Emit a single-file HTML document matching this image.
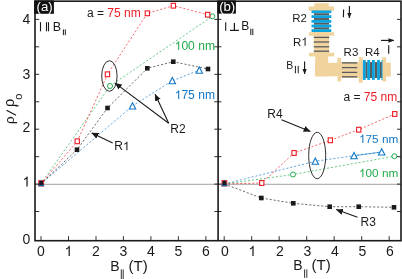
<!DOCTYPE html>
<html><head><meta charset="utf-8"><style>
html,body{margin:0;padding:0;background:#fff;}
svg{display:block;will-change:transform;font-family:"Liberation Sans",sans-serif;fill:#1a1a1a}
</style></head><body>
<svg width="402" height="279" viewBox="0 0 402 279">
<line x1="35" y1="184.3" x2="401" y2="184.3" stroke="#8a8a8a" stroke-width="0.8"/>
<polyline points="40.7,184 110,86 212.3,16.3" fill="none" stroke="#1faa4a" stroke-width="0.65" stroke-dasharray="2.1,1.9"/>
<polyline points="40.7,184 132.5,106 172.3,80.7 199.3,70.3" fill="none" stroke="#1177c8" stroke-width="0.65" stroke-dasharray="2.1,1.9"/>
<polyline points="40.7,184 77,149.7 107.5,108 147.3,68.3 173.3,61.7 208,69" fill="none" stroke="#1a1a1a" stroke-width="0.65" stroke-dasharray="2.1,1.9"/>
<polyline points="40.7,184 77.3,141.3 107.5,74.3 147.3,13.3 173.3,5.7 207.7,14.7" fill="none" stroke="#ed1c24" stroke-width="0.65" stroke-dasharray="2.1,1.9"/>
<polyline points="224.3,184 293,174.5 394.4,156.2" fill="none" stroke="#1faa4a" stroke-width="0.65" stroke-dasharray="2.1,1.9"/>
<polyline points="224.3,184 315.3,161.3 354,155.7 381.7,152" fill="none" stroke="#1177c8" stroke-width="0.65" stroke-dasharray="2.1,1.9"/>
<polyline points="224.3,184 261.3,198 293.3,203.3 329.7,206.7 358.7,206.7 394,207.3" fill="none" stroke="#1a1a1a" stroke-width="0.65" stroke-dasharray="2.1,1.9"/>
<polyline points="224.3,184 261.7,183 294,153 330.3,140.3 358.7,129.7 394.7,114" fill="none" stroke="#ed1c24" stroke-width="0.65" stroke-dasharray="2.1,1.9"/>
<circle cx="110" cy="86" r="2.5" fill="#fff" stroke="#1faa4a" stroke-width="1"/>
<circle cx="212.3" cy="16.3" r="2.5" fill="#fff" stroke="#1faa4a" stroke-width="1"/>
<polygon points="129.3,109.0 135.7,109.0 132.5,102.7" fill="#fff" stroke="#1177c8" stroke-width="1.1"/>
<polygon points="169.1,83.7 175.5,83.7 172.3,77.4" fill="#fff" stroke="#1177c8" stroke-width="1.1"/>
<polygon points="196.1,73.3 202.5,73.3 199.3,67.0" fill="#fff" stroke="#1177c8" stroke-width="1.1"/>
<rect x="74.7" y="147.4" width="4.6" height="4.6" fill="#1a1a1a"/>
<rect x="105.2" y="105.7" width="4.6" height="4.6" fill="#1a1a1a"/>
<rect x="145.0" y="66.0" width="4.6" height="4.6" fill="#1a1a1a"/>
<rect x="171.0" y="59.4" width="4.6" height="4.6" fill="#1a1a1a"/>
<rect x="205.7" y="66.7" width="4.6" height="4.6" fill="#1a1a1a"/>
<rect x="75.1" y="138.9" width="4.3" height="4.8" fill="#fff" stroke="#ed1c24" stroke-width="1.1"/>
<rect x="105.3" y="71.9" width="4.3" height="4.8" fill="#fff" stroke="#ed1c24" stroke-width="1.1"/>
<rect x="145.2" y="10.9" width="4.3" height="4.8" fill="#fff" stroke="#ed1c24" stroke-width="1.1"/>
<rect x="171.2" y="3.3" width="4.3" height="4.8" fill="#fff" stroke="#ed1c24" stroke-width="1.1"/>
<rect x="205.5" y="12.3" width="4.3" height="4.8" fill="#fff" stroke="#ed1c24" stroke-width="1.1"/>
<line x1="354" y1="155.7" x2="381.7" y2="152" stroke="#1177c8" stroke-width="0.6"/>
<circle cx="293" cy="174.5" r="2.5" fill="#fff" stroke="#1faa4a" stroke-width="1"/>
<circle cx="394.4" cy="156.2" r="2.5" fill="#fff" stroke="#1faa4a" stroke-width="1"/>
<polygon points="312.1,164.3 318.5,164.3 315.3,158.0" fill="#fff" stroke="#1177c8" stroke-width="1.1"/>
<polygon points="350.8,158.7 357.2,158.7 354.0,152.4" fill="#fff" stroke="#1177c8" stroke-width="1.1"/>
<polygon points="378.5,155.0 384.9,155.0 381.7,148.7" fill="#fff" stroke="#1177c8" stroke-width="1.1"/>
<rect x="259.0" y="195.7" width="4.6" height="4.6" fill="#1a1a1a"/>
<rect x="291.0" y="201.0" width="4.6" height="4.6" fill="#1a1a1a"/>
<rect x="327.4" y="204.4" width="4.6" height="4.6" fill="#1a1a1a"/>
<rect x="356.4" y="204.4" width="4.6" height="4.6" fill="#1a1a1a"/>
<rect x="391.7" y="205.0" width="4.6" height="4.6" fill="#1a1a1a"/>
<rect x="259.6" y="180.6" width="4.3" height="4.8" fill="#fff" stroke="#ed1c24" stroke-width="1.1"/>
<rect x="291.9" y="150.6" width="4.3" height="4.8" fill="#fff" stroke="#ed1c24" stroke-width="1.1"/>
<rect x="328.2" y="137.9" width="4.3" height="4.8" fill="#fff" stroke="#ed1c24" stroke-width="1.1"/>
<rect x="356.6" y="127.3" width="4.3" height="4.8" fill="#fff" stroke="#ed1c24" stroke-width="1.1"/>
<rect x="392.6" y="111.6" width="4.3" height="4.8" fill="#fff" stroke="#ed1c24" stroke-width="1.1"/>
<rect x="38.800000000000004" y="180.6" width="4.8" height="5.4" fill="#fff" stroke="#ed1c24" stroke-width="1"/>
<polygon points="38.0,186.2 44.400000000000006,186.2 41.2,179.6" fill="#1177c8"/>
<rect x="39.2" y="181" width="4" height="4.2" fill="#1a1a1a"/>
<rect x="222.0" y="180.6" width="4.8" height="5.4" fill="#fff" stroke="#ed1c24" stroke-width="1"/>
<polygon points="221.20000000000002,186.2 227.6,186.2 224.4,179.6" fill="#1177c8"/>
<rect x="222.4" y="181" width="4" height="4.2" fill="#1a1a1a"/>
<ellipse cx="109.4" cy="76" rx="7.7" ry="15.3" fill="none" stroke="#1a1a1a" stroke-width="0.9"/>
<ellipse cx="317.2" cy="155.5" rx="8.5" ry="23.2" fill="none" stroke="#1a1a1a" stroke-width="0.9"/>
<rect x="35" y="1.2" width="366" height="239.5" fill="none" stroke="#1a1a1a" stroke-width="1.6"/>
<line x1="218.1" y1="1.2" x2="218.1" y2="240.7" stroke="#1a1a1a" stroke-width="1.6"/>
<line x1="35" y1="211.5" x2="39.2" y2="211.5" stroke="#1a1a1a" stroke-width="0.9"/>
<line x1="214.3" y1="211.5" x2="221.4" y2="211.5" stroke="#1a1a1a" stroke-width="0.9"/>
<line x1="397" y1="211.5" x2="401" y2="211.5" stroke="#1a1a1a" stroke-width="0.9"/>
<line x1="35" y1="184.1" x2="39.2" y2="184.1" stroke="#1a1a1a" stroke-width="0.9"/>
<line x1="214.3" y1="184.1" x2="221.4" y2="184.1" stroke="#1a1a1a" stroke-width="0.9"/>
<line x1="397" y1="184.1" x2="401" y2="184.1" stroke="#1a1a1a" stroke-width="0.9"/>
<line x1="35" y1="156.7" x2="39.2" y2="156.7" stroke="#1a1a1a" stroke-width="0.9"/>
<line x1="214.3" y1="156.7" x2="221.4" y2="156.7" stroke="#1a1a1a" stroke-width="0.9"/>
<line x1="397" y1="156.7" x2="401" y2="156.7" stroke="#1a1a1a" stroke-width="0.9"/>
<line x1="35" y1="129.2" x2="39.2" y2="129.2" stroke="#1a1a1a" stroke-width="0.9"/>
<line x1="214.3" y1="129.2" x2="221.4" y2="129.2" stroke="#1a1a1a" stroke-width="0.9"/>
<line x1="397" y1="129.2" x2="401" y2="129.2" stroke="#1a1a1a" stroke-width="0.9"/>
<line x1="35" y1="101.8" x2="39.2" y2="101.8" stroke="#1a1a1a" stroke-width="0.9"/>
<line x1="214.3" y1="101.8" x2="221.4" y2="101.8" stroke="#1a1a1a" stroke-width="0.9"/>
<line x1="397" y1="101.8" x2="401" y2="101.8" stroke="#1a1a1a" stroke-width="0.9"/>
<line x1="35" y1="74.3" x2="39.2" y2="74.3" stroke="#1a1a1a" stroke-width="0.9"/>
<line x1="214.3" y1="74.3" x2="221.4" y2="74.3" stroke="#1a1a1a" stroke-width="0.9"/>
<line x1="397" y1="74.3" x2="401" y2="74.3" stroke="#1a1a1a" stroke-width="0.9"/>
<line x1="35" y1="46.8" x2="39.2" y2="46.8" stroke="#1a1a1a" stroke-width="0.9"/>
<line x1="214.3" y1="46.8" x2="221.4" y2="46.8" stroke="#1a1a1a" stroke-width="0.9"/>
<line x1="397" y1="46.8" x2="401" y2="46.8" stroke="#1a1a1a" stroke-width="0.9"/>
<line x1="35" y1="19.4" x2="39.2" y2="19.4" stroke="#1a1a1a" stroke-width="0.9"/>
<line x1="214.3" y1="19.4" x2="221.4" y2="19.4" stroke="#1a1a1a" stroke-width="0.9"/>
<line x1="397" y1="19.4" x2="401" y2="19.4" stroke="#1a1a1a" stroke-width="0.9"/>
<line x1="41.0" y1="236.2" x2="41.0" y2="240.5" stroke="#1a1a1a" stroke-width="0.9"/>
<text x="41.0" y="255.9" font-size="14" text-anchor="middle">0</text>
<line x1="224.2" y1="236.2" x2="224.2" y2="240.5" stroke="#1a1a1a" stroke-width="0.9"/>
<text x="224.8" y="255.9" font-size="14" text-anchor="middle">0</text>
<line x1="68.5" y1="236.2" x2="68.5" y2="240.5" stroke="#1a1a1a" stroke-width="0.9"/>
<path d="M763,0H583V1147Q518,1085 412,1023Q307,961 223,930V1104Q374,1175 487,1276Q600,1377 647,1472H763Z" transform="translate(64.58,255.90) scale(0.00684,-0.00684)" fill="#1a1a1a"/>
<line x1="251.7" y1="236.2" x2="251.7" y2="240.5" stroke="#1a1a1a" stroke-width="0.9"/>
<path d="M763,0H583V1147Q518,1085 412,1023Q307,961 223,930V1104Q374,1175 487,1276Q600,1377 647,1472H763Z" transform="translate(248.40,255.90) scale(0.00684,-0.00684)" fill="#1a1a1a"/>
<line x1="96.0" y1="236.2" x2="96.0" y2="240.5" stroke="#1a1a1a" stroke-width="0.9"/>
<text x="96.0" y="255.9" font-size="14" text-anchor="middle">2</text>
<line x1="279.2" y1="236.2" x2="279.2" y2="240.5" stroke="#1a1a1a" stroke-width="0.9"/>
<text x="279.8" y="255.9" font-size="14" text-anchor="middle">2</text>
<line x1="123.4" y1="236.2" x2="123.4" y2="240.5" stroke="#1a1a1a" stroke-width="0.9"/>
<text x="123.4" y="255.9" font-size="14" text-anchor="middle">3</text>
<line x1="306.7" y1="236.2" x2="306.7" y2="240.5" stroke="#1a1a1a" stroke-width="0.9"/>
<text x="307.3" y="255.9" font-size="14" text-anchor="middle">3</text>
<line x1="150.9" y1="236.2" x2="150.9" y2="240.5" stroke="#1a1a1a" stroke-width="0.9"/>
<text x="150.9" y="255.9" font-size="14" text-anchor="middle">4</text>
<line x1="334.2" y1="236.2" x2="334.2" y2="240.5" stroke="#1a1a1a" stroke-width="0.9"/>
<text x="334.8" y="255.9" font-size="14" text-anchor="middle">4</text>
<line x1="178.4" y1="236.2" x2="178.4" y2="240.5" stroke="#1a1a1a" stroke-width="0.9"/>
<text x="178.4" y="255.9" font-size="14" text-anchor="middle">5</text>
<line x1="361.7" y1="236.2" x2="361.7" y2="240.5" stroke="#1a1a1a" stroke-width="0.9"/>
<text x="362.3" y="255.9" font-size="14" text-anchor="middle">5</text>
<line x1="205.9" y1="236.2" x2="205.9" y2="240.5" stroke="#1a1a1a" stroke-width="0.9"/>
<text x="205.9" y="255.9" font-size="14" text-anchor="middle">6</text>
<line x1="389.2" y1="236.2" x2="389.2" y2="240.5" stroke="#1a1a1a" stroke-width="0.9"/>
<text x="389.8" y="255.9" font-size="14" text-anchor="middle">6</text>
<text x="30.2" y="244.4" font-size="14" text-anchor="end">0</text>
<path d="M763,0H583V1147Q518,1085 412,1023Q307,961 223,930V1104Q374,1175 487,1276Q600,1377 647,1472H763Z" transform="translate(22.42,186.50) scale(0.00684,-0.00684)" fill="#1a1a1a"/>
<text x="30.2" y="131.7" font-size="14" text-anchor="end">2</text>
<text x="30.2" y="78.6" font-size="14" text-anchor="end">3</text>
<text x="30.2" y="23.7" font-size="14" text-anchor="end">4</text>
<defs>
<marker id="ah" viewBox="0 0 10 10" refX="9.5" refY="5" markerWidth="7" markerHeight="7" markerUnits="userSpaceOnUse" orient="auto"><path d="M0,0.6 L10,5 L0,9.4 z" fill="#1a1a1a"/></marker>
<marker id="ahs" viewBox="0 0 10 10" refX="9.5" refY="5" markerWidth="5.6" markerHeight="5.6" markerUnits="userSpaceOnUse" orient="auto"><path d="M0,1 L10,5 L0,9 z" fill="#1a1a1a"/></marker>
</defs>
<!-- panel tags -->
<rect x="34.2" y="0.4" width="19.7" height="13.4" fill="#111"/>
<text x="44.6" y="11.4" font-size="13.2" text-anchor="middle" fill="#fff">(a)</text>
<rect x="217.3" y="0.4" width="18.6" height="13.2" fill="#111"/>
<text x="227.2" y="11.4" font-size="13.2" text-anchor="middle" fill="#fff">(b)</text>
<!-- I || B|| -->
<g stroke="#1a1a1a" stroke-width="1.1">
<line x1="40.5" y1="22.2" x2="40.5" y2="31.3"/>
<line x1="46.5" y1="22.2" x2="46.5" y2="31.3"/>
<line x1="48.5" y1="22.2" x2="48.5" y2="31.3"/>
<line x1="63.4" y1="29.4" x2="63.4" y2="35.1" stroke-width="1"/>
<line x1="65.3" y1="29.4" x2="65.3" y2="35.1" stroke-width="1"/>
<line x1="225.7" y1="22.2" x2="225.7" y2="30.8"/>
<line x1="234.4" y1="22.9" x2="234.4" y2="30.8" stroke-width="1.25"/>
<line x1="230" y1="30.4" x2="238.9" y2="30.4" stroke-width="1.25"/>
<line x1="250.8" y1="28.7" x2="250.8" y2="35.1" stroke-width="1"/>
<line x1="252.8" y1="28.7" x2="252.8" y2="35.1" stroke-width="1"/>
</g>
<text x="52.8" y="31.3" font-size="12.5">B</text>
<text x="241.2" y="30.4" font-size="12">B</text>
<!-- legends -->
<text x="87" y="17.2" font-size="12">a = <tspan fill="#ed1c24">75 nm</tspan></text>
<path d="M763,0H583V1147Q518,1085 412,1023Q307,961 223,930V1104Q374,1175 487,1276Q600,1377 647,1472H763Z" transform="translate(174.70,50.00) scale(0.00591,-0.00591)" fill="#1faa4a"/><text x="181.4" y="50" font-size="12.1" fill="#1faa4a">00 nm</text>
<path d="M763,0H583V1147Q518,1085 412,1023Q307,961 223,930V1104Q374,1175 487,1276Q600,1377 647,1472H763Z" transform="translate(174.70,99.00) scale(0.00591,-0.00591)" fill="#1177c8"/><text x="181.4" y="99" font-size="12.1" fill="#1177c8">75 nm</text>
<text x="170.3" y="132.6" font-size="12">R2</text>
<text x="114.3" y="150.3" font-size="12">R</text><path d="M763,0H583V1147Q518,1085 412,1023Q307,961 223,930V1104Q374,1175 487,1276Q600,1377 647,1472H763Z" transform="translate(122.96,150.30) scale(0.00586,-0.00586)" fill="#1a1a1a"/>
<text x="343.5" y="101.3" font-size="12">a = <tspan fill="#ed1c24">75 nm</tspan></text>
<path d="M763,0H583V1147Q518,1085 412,1023Q307,961 223,930V1104Q374,1175 487,1276Q600,1377 647,1472H763Z" transform="translate(359.00,143.00) scale(0.00576,-0.00576)" fill="#1177c8"/><text x="365.56" y="143" font-size="11.8" fill="#1177c8">75 nm</text>
<path d="M763,0H583V1147Q518,1085 412,1023Q307,961 223,930V1104Q374,1175 487,1276Q600,1377 647,1472H763Z" transform="translate(359.00,177.30) scale(0.00576,-0.00576)" fill="#1faa4a"/><text x="365.56" y="177.3" font-size="11.8" fill="#1faa4a">00 nm</text>
<text x="267.3" y="118" font-size="12">R4</text>
<text x="360.6" y="225.5" font-size="12">R3</text>
<!-- arrows -->
<g stroke="#1a1a1a" stroke-width="1.1" fill="none">
<line x1="168.7" y1="123.2" x2="115.1" y2="83.1" marker-end="url(#ah)"/>
<line x1="168.7" y1="123.2" x2="155.1" y2="94.2" marker-end="url(#ah)"/>
<line x1="112.7" y1="143" x2="91.7" y2="133" marker-end="url(#ah)"/>
<line x1="281.5" y1="119.8" x2="310.3" y2="131.4" marker-end="url(#ah)"/>
<line x1="357.5" y1="217.3" x2="336.3" y2="209.5" marker-end="url(#ah)"/>
</g>
<!-- x labels -->
<text x="110.3" y="270.6" font-size="14">B</text>
<text x="128.5" y="270.6" font-size="14" textLength="19.2" lengthAdjust="spacingAndGlyphs">(T)</text>
<text x="293.3" y="270.3" font-size="14">B</text>
<text x="311.6" y="270.3" font-size="14" textLength="19.2" lengthAdjust="spacingAndGlyphs">(T)</text>
<g stroke="#1a1a1a" stroke-width="0.9">
<line x1="121.3" y1="269.4" x2="121.3" y2="279"/><line x1="123.2" y1="269.4" x2="123.2" y2="279"/>
<line x1="304.6" y1="269.4" x2="304.6" y2="277.8"/><line x1="306.8" y1="269.4" x2="306.8" y2="277.8"/>
</g>
<!-- y label -->
<text transform="translate(13.6,123.9) rotate(-90)" font-size="13.5">ρ</text>
<line x1="16" y1="115.3" x2="6.5" y2="110.3" stroke="#1a1a1a" stroke-width="1.25"/>
<text transform="translate(13.6,107) rotate(-90)" font-size="14.6">ρ</text><line x1="15.5" y1="105.9" x2="18.6" y2="105.9" stroke="#1a1a1a" stroke-width="1.2"/>
<text transform="translate(22.2,99.8) rotate(-90)" font-size="11">o</text>
<!-- inset device -->
<g fill="#f1d49d">
<rect x="314.4" y="3.2" width="14.5" height="4"/>
<rect x="308.7" y="6.5" width="25.3" height="4.3"/>
<rect x="313.8" y="10" width="15.4" height="44"/>
<rect x="308.7" y="32.2" width="25.5" height="3.5"/>
<rect x="309" y="52.7" width="25.2" height="3.7"/>
<rect x="315.2" y="56" width="13" height="20.3"/>
<rect x="315.2" y="62.8" width="23" height="13.5"/>
<rect x="337.4" y="57.8" width="3.7" height="23.6"/>
<rect x="341" y="61.9" width="45" height="16.1"/>
<rect x="358.8" y="57.3" width="3.9" height="25.5"/>
<rect x="382.2" y="57.3" width="3.9" height="24.1"/>
<rect x="386" y="62.6" width="4.8" height="14"/>
</g>
<g stroke="#575b60" stroke-width="1.3">
<g stroke-width="1.9"><line x1="314" y1="14.2" x2="329" y2="14.2"/><line x1="314" y1="19" x2="329" y2="19"/><line x1="314" y1="23.7" x2="329" y2="23.7"/><line x1="314" y1="28.3" x2="329" y2="28.3"/></g>
<line x1="313.8" y1="37.4" x2="329.2" y2="37.4"/><line x1="313.8" y1="42" x2="329.2" y2="42"/><line x1="313.8" y1="46.8" x2="329.2" y2="46.8"/><line x1="313.8" y1="51.2" x2="329.2" y2="51.2"/>
<line x1="342" y1="62.9" x2="357.2" y2="62.9"/><line x1="342" y1="67.6" x2="357.2" y2="67.6"/><line x1="342" y1="72.4" x2="357.2" y2="72.4"/><line x1="342" y1="76.8" x2="357.2" y2="76.8"/>
<g stroke-width="2.2"><line x1="366.5" y1="62.1" x2="366.5" y2="78"/><line x1="371.05" y1="62.1" x2="371.05" y2="78"/><line x1="376" y1="62.1" x2="376" y2="78"/><line x1="380.8" y1="62.1" x2="380.8" y2="78"/></g>
</g>
<g stroke="#0ca4de" stroke-width="2.8">
<line x1="311.5" y1="11.8" x2="331.3" y2="11.8"/><line x1="311.5" y1="16.6" x2="331.3" y2="16.6"/><line x1="311.5" y1="21.4" x2="331.3" y2="21.4"/><line x1="311.5" y1="26" x2="331.3" y2="26"/><line x1="311.5" y1="30.6" x2="331.3" y2="30.6"/>
<g stroke-width="2.8"><line x1="364.3" y1="60" x2="364.3" y2="79.9"/><line x1="368.7" y1="60" x2="368.7" y2="79.9"/><line x1="373.4" y1="60" x2="373.4" y2="79.9"/><line x1="378.5" y1="60" x2="378.5" y2="79.9"/><line x1="382" y1="60" x2="382" y2="79.9" stroke-width="1"/></g>
</g>
<text x="292.3" y="22.4" font-size="11.5">R2</text>
<text x="293" y="45.8" font-size="11.5">R</text><path d="M763,0H583V1147Q518,1085 412,1023Q307,961 223,930V1104Q374,1175 487,1276Q600,1377 647,1472H763Z" transform="translate(301.30,45.80) scale(0.00562,-0.00562)" fill="#1a1a1a"/>
<text x="343.6" y="55.7" font-size="11.5">R3</text>
<text x="365" y="56" font-size="11.5">R4</text>
<g stroke="#1a1a1a" stroke-width="1.15" fill="none">
<line x1="343.6" y1="9.4" x2="343.4" y2="17.3"/>
<line x1="349.4" y1="6" x2="349.4" y2="18" marker-end="url(#ahs)"/>
<line x1="381" y1="40.4" x2="393.8" y2="40.4" marker-end="url(#ahs)"/>
<line x1="388.7" y1="45.3" x2="388.7" y2="53.8"/>
<line x1="304.6" y1="61.5" x2="304.6" y2="74" marker-end="url(#ahs)"/>
<line x1="295.4" y1="65.8" x2="295.4" y2="73.3" stroke-width="1"/>
<line x1="298.2" y1="65.8" x2="298.2" y2="73.3" stroke-width="1"/>
</g>
<text x="286.2" y="68.6" font-size="10.5">B</text>

</svg></body></html>
